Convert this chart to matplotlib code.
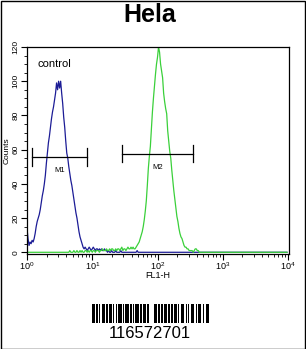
import matplotlib
matplotlib.use("Agg")
from matplotlib import pyplot as plt
from matplotlib.patches import Rectangle
from matplotlib.ticker import LogLocator, MultipleLocator, NullFormatter
import numpy as np

plt.rcParams['font.family'] = ['Liberation Sans', 'DejaVu Sans']
plt.rcParams['mathtext.fontset'] = 'custom'
plt.rcParams['mathtext.rm'] = 'Liberation Sans'

# histogram counts, one value per channel (64 channels per decade, channel 0 = 10^0)
control_counts = [14, 8, 4, 6, 5, 7, 6, 8, 11, 15, 18, 20, 22, 25, 29, 33, 36, 40, 45, 52,
                  58, 64, 68, 73, 78, 82, 85, 89, 93, 99, 95, 100, 96, 100, 93, 87, 79, 73, 65, 58,
                  55, 50, 46, 42, 39, 35, 31, 27, 23, 20, 16, 12, 9, 7, 5, 3, 2, 3, 2, 1,
                  2, 3, 2, 1, 2, 3, 2, 1, 2, 2, 1, 2, 1, 2, 1, 1, 2, 1, 1, 0,
                  1, 0, 0, 1, 0, 0, 0, 1, 0, 0, 0, 0, 1, 0, 0, 0, 0, 0, 0, 0,
                  0, 0, 0, 0, 0, 0, 0, 0, 1, 0, 0]
sample_counts = [0, 0, 0, 0, 0, 0, 0, 0, 0, 0, 0, 0, 0, 0, 0, 0, 0, 0, 0, 0,
                 0, 0, 0, 0, 0, 0, 0, 0, 0, 0, 0, 0, 0, 0, 0, 0, 0, 0, 0, 0,
                 0, 0, 1, 0, 0, 0, 1, 0, 0, 1, 0, 0, 1, 0, 1, 0, 0, 1, 1, 0,
                 1, 0, 1, 1, 0, 1, 1, 0, 1, 1, 1, 0, 1, 1, 2, 1, 1, 1, 2, 1,
                 1, 2, 1, 2, 2, 1, 1, 2, 1, 2, 2, 1, 2, 3, 1, 2, 2, 1, 2, 3,
                 2, 2, 3, 2, 3, 2, 2, 3, 4, 5, 6, 8, 10, 12, 15, 19, 24, 30, 39, 49,
                 56, 62, 72, 82, 90, 97, 104, 110, 114, 120, 117, 110, 106, 102, 93, 88, 84, 81, 71, 65,
                 59, 55, 48, 42, 36, 31, 26, 21, 18, 14, 11, 9, 8, 6, 4, 3, 3, 2, 2, 1,
                 1, 1, 1, 0, 1, 2, 2, 1, 1, 0]
n_channels = 256

# markers (x range, y level, label)
m1_range = [1.19, 8.3]
m1_y = 55.7
m2_range = [28.6, 350]
m2_y = 57.5

# barcode: alternating bar / space widths (half modules)
barcode_pattern = [7, 2, 3, 2, 3, 3, 7, 3, 3, 2, 7, 2, 3, 3, 3, 2, 7, 2, 3, 3, 7, 3, 3, 2, 3, 3,
                   7, 3, 3, 3, 7, 2, 3, 10, 7, 3, 3, 3, 3, 3, 7, 2, 3, 3, 3, 2, 7, 2, 3, 3,
                   7, 3, 3, 2, 3, 3, 7, 3, 3, 2, 7, 3, 3, 3, 7]
barcode_text = "116572701"

W, H = 306, 349
fig = plt.figure(figsize=(W / 100, H / 100), dpi=100)
fig.patches.append(Rectangle((0.5 / W, 0.5 / H), 1 - 1.5 / W, 1 - 1.5 / H, transform=fig.transFigure,
                             fill=False, edgecolor='black', linewidth=1))

ax = fig.add_axes([27 / W, (H - 254) / H, 262 / W, 207 / H])

def pad(counts):
    return np.array(counts + [0] * (n_channels - len(counts)), dtype=float)

ch = np.arange(n_channels)
fl = 10 ** (ch / 64.0)
ax.plot(fl, pad(control_counts), color='#1c1c96', linewidth=0.9)
ax.plot(fl, pad(sample_counts), color='#3ad03a', linewidth=0.9)

ax.set_xscale('log')
ax.set_xlim(1, 10 ** 4.015)
ax.set_ylim(-1, 120)
ax.xaxis.set_minor_locator(LogLocator(base=10, subs=np.arange(2, 10), numticks=20))
ax.xaxis.set_minor_formatter(NullFormatter())
ax.set_xticks([1, 10, 100, 1000, 10000])
ax.set_xticklabels([r'$10^{0}$', r'$10^{1}$', r'$10^{2}$', r'$10^{3}$', r'$10^{4}$'], fontsize=6.5)
ax.yaxis.set_major_locator(MultipleLocator(20))
ax.yaxis.set_minor_locator(MultipleLocator(5))
ax.tick_params(axis='y', which='major', direction='out', length=4, width=0.8, labelsize=6, pad=1.5)
ax.tick_params(axis='y', which='minor', direction='out', length=2.5, width=0.6)
ax.tick_params(axis='x', which='major', direction='out', length=4.5, width=0.8, pad=0)
ax.tick_params(axis='x', which='minor', direction='out', length=2.5, width=0.6)
for lab in ax.get_yticklabels():
    lab.set_rotation(90)
    lab.set_va('center')
for s in ax.spines.values():
    s.set_linewidth(0.9)

ax.set_xlabel("FL1-H", fontsize=6.5, labelpad=-0.5)
ax.set_ylabel("Counts", fontsize=6, labelpad=1)

ax.text(1.43, 113, "control", fontsize=8, va='top', ha='left')

for rng, y, lab in [(m1_range, m1_y, "M1"), (m2_range, m2_y, "M2")]:
    ax.plot(rng, [y, y], color='black', linewidth=0.9)
    for xe in rng:
        ax.plot([xe, xe], [y - 5, y + 5], color='black', linewidth=0.9)
    xc = np.sqrt(rng[0] * rng[1])
    ax.text(xc, y - 8, lab, fontsize=5.5, ha='center', va='center')

fig.text(150 / W, 1 - 15 / H, "Hela", fontsize=18, fontweight='bold', ha='center', va='center')

# barcode
bax = fig.add_axes([92 / W, (H - 323) / H, 117 / W, 19 / H])
bax.axis('off')
pos = 0
for i, w in enumerate(barcode_pattern):
    if i % 2 == 0:
        bax.add_patch(Rectangle((pos, 0), w, 1, color='black', linewidth=0))
    pos += w
bax.set_xlim(0, pos)
bax.set_ylim(0, 1)
fig.text(150 / W, 1 - 333 / H, barcode_text, fontsize=12, ha='center', va='center')

fig.savefig("out.png", dpi=100)
